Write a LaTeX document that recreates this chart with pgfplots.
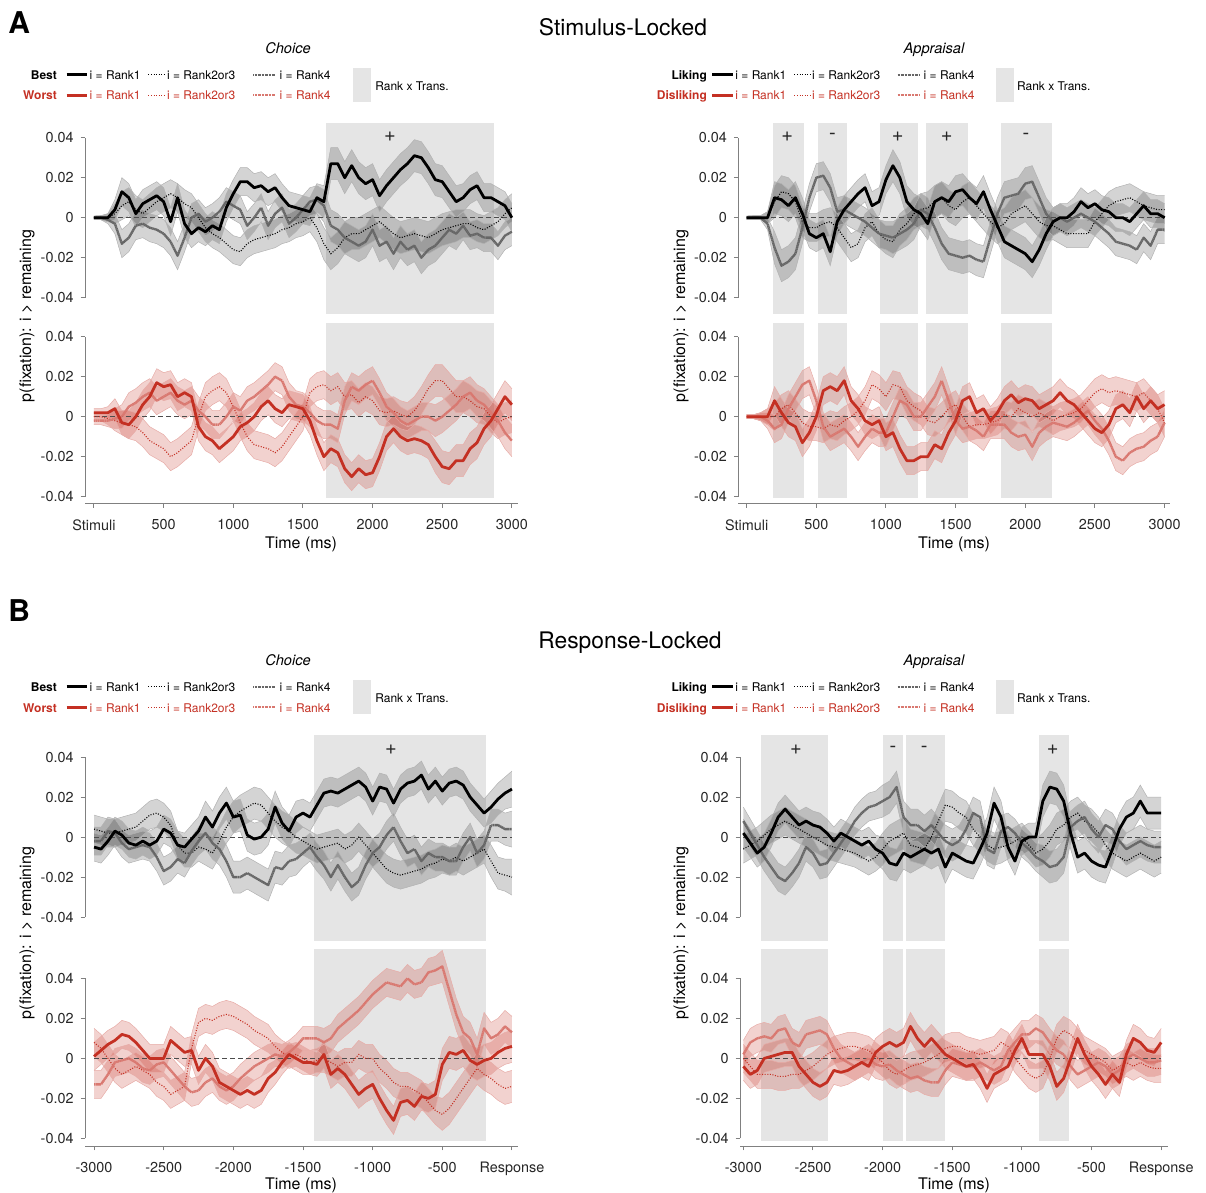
\documentclass[border=0pt]{standalone}
\usepackage{fontspec}
\setmainfont{TeX Gyre Heros}
\usepackage{pgfplots}
\usepackage{pgfplotstable}
\pgfplotsset{compat=1.18}
\usepgfplotslibrary{fillbetween}
\definecolor{redc}{RGB}{196,48,35}

% ---------- A: Stimulus-locked, Choice, Best (black) ----------
\pgfplotstableread{
t m1 m2 m4 e
0 0 0 0 0.0008
50 0 0 0 0.001
100 0.000 0.000 -0.001 0.002
150 0.004 0.002 -0.003 0.005
200 0.013 0.006 -0.013 0.007
250 0.010 0.008 -0.010 0.007
300 0.002 0.004 -0.004 0.007
350 0.007 0.002 -0.003 0.007
400 0.009 0.005 -0.005 0.007
450 0.011 0.008 -0.006 0.007
500 0.008 0.010 -0.008 0.007
550 -0.002 0.012 -0.012 0.007
600 0.010 0.010 -0.019 0.007
650 -0.003 0.007 -0.010 0.007
700 -0.008 0.005 0.000 0.007
750 -0.005 0.000 0.002 0.007
800 -0.007 -0.005 -0.002 0.007
850 -0.004 -0.008 0.000 0.007
900 -0.006 -0.010 0.003 0.007
950 0.005 -0.013 0.008 0.007
1000 0.012 -0.016 0.006 0.007
1050 0.018 -0.017 0.004 0.007
1100 0.018 -0.013 -0.004 0.007
1150 0.015 -0.011 0.000 0.007
1200 0.016 -0.010 0.005 0.007
1250 0.013 -0.009 -0.004 0.007
1300 0.015 -0.008 0.002 0.007
1350 0.010 -0.006 0.005 0.007
1400 0.006 -0.005 -0.003 0.007
1450 0.005 -0.003 0.000 0.007
1500 0.004 -0.002 0.004 0.007
1550 0.003 0.000 0.008 0.007
1600 0.010 -0.005 0.009 0.007
1650 0.008 -0.013 0.006 0.008
1700 0.027 -0.018 -0.004 0.008
1750 0.027 -0.015 -0.006 0.008
1800 0.020 -0.010 -0.010 0.008
1850 0.026 -0.008 -0.012 0.008
1900 0.020 -0.008 -0.014 0.008
1950 0.017 -0.006 -0.012 0.008
2000 0.019 -0.004 -0.006 0.008
2050 0.011 -0.002 -0.014 0.008
2100 0.016 -0.005 -0.012 0.008
2150 0.020 -0.008 -0.018 0.008
2200 0.024 -0.010 -0.012 0.008
2250 0.027 -0.009 -0.016 0.008
2300 0.031 -0.008 -0.014 0.008
2350 0.030 -0.009 -0.020 0.008
2400 0.025 -0.010 -0.016 0.008
2450 0.019 -0.008 -0.014 0.008
2500 0.018 -0.006 -0.010 0.008
2550 0.013 -0.005 -0.006 0.008
2600 0.008 -0.004 -0.008 0.008
2650 0.010 -0.003 -0.004 0.007
2700 0.014 -0.003 -0.009 0.007
2750 0.016 -0.005 -0.008 0.007
2800 0.010 -0.006 -0.010 0.007
2850 0.010 -0.004 -0.010 0.007
2900 0.008 -0.002 -0.014 0.007
2950 0.006 0.002 -0.009 0.007
3000 0.000 0.005 -0.007 0.007
}\tabALT

% ---------- A: Stimulus-locked, Choice, Worst (red) ----------
\pgfplotstableread{
t m1 m2 m4 e
0 0.002 0.000 -0.002 0.002
50 0.002 0.000 -0.002 0.002
100 0.002 -0.001 -0.002 0.003
150 0.004 -0.002 -0.001 0.005
200 -0.003 -0.003 0.000 0.006
250 -0.004 -0.004 0.005 0.007
300 0.000 -0.005 0.007 0.007
350 0.006 -0.008 0.010 0.007
400 0.010 -0.012 0.012 0.007
450 0.017 -0.014 0.008 0.007
500 0.015 -0.016 0.010 0.007
550 0.016 -0.020 0.012 0.007
600 0.010 -0.018 0.008 0.007
650 0.012 -0.015 0.006 0.007
700 0.010 -0.012 0.008 0.007
750 -0.005 0.000 0.003 0.007
800 -0.010 0.010 0.000 0.007
850 -0.012 0.013 -0.004 0.007
900 -0.016 0.015 -0.004 0.007
950 -0.013 0.012 0.000 0.007
1000 -0.010 0.005 0.005 0.007
1050 -0.005 -0.003 0.003 0.007
1100 -0.003 -0.010 0.008 0.007
1150 0.000 -0.014 0.010 0.007
1200 0.005 -0.015 0.013 0.007
1250 0.008 -0.016 0.016 0.007
1300 0.004 -0.018 0.020 0.007
1350 0.002 -0.015 0.018 0.007
1400 0.006 -0.010 0.010 0.007
1450 0.005 -0.005 0.006 0.007
1500 0.004 0.000 0.005 0.007
1550 -0.002 0.012 0.002 0.007
1600 -0.012 0.015 -0.002 0.007
1650 -0.020 0.016 -0.004 0.007
1700 -0.016 0.013 -0.004 0.007
1750 -0.018 0.015 -0.006 0.007
1800 -0.026 0.010 0.008 0.007
1850 -0.030 0.011 0.015 0.007
1900 -0.026 0.007 0.013 0.007
1950 -0.029 0.010 0.016 0.007
2000 -0.028 0.008 0.018 0.007
2050 -0.020 0.003 0.012 0.007
2100 -0.010 0.002 0.005 0.007
2150 -0.006 0.003 0.002 0.007
2200 -0.010 0.001 -0.002 0.007
2250 -0.012 0.000 -0.004 0.007
2300 -0.011 0.003 -0.002 0.007
2350 -0.012 0.008 0.000 0.007
2400 -0.014 0.014 0.000 0.007
2450 -0.020 0.018 -0.002 0.008
2500 -0.025 0.018 0.000 0.008
2550 -0.026 0.014 0.003 0.008
2600 -0.022 0.010 0.006 0.008
2650 -0.022 0.010 0.010 0.008
2700 -0.016 0.008 0.012 0.008
2750 -0.013 0.005 0.008 0.008
2800 -0.006 0.004 0.006 0.008
2850 -0.002 0.000 0.002 0.008
2900 0.004 -0.003 -0.002 0.008
2950 0.010 -0.001 -0.008 0.008
3000 0.006 0.000 -0.012 0.008
}\tabALB

% ---------- A: Stimulus-locked, Appraisal, Liking (black) ----------
\pgfplotstableread{
t m1 m2 m4 e
0 0 0 0 0.0008
50 0 0 0 0.001
100 0 0 0 0.001
150 0.000 0.000 -0.003 0.003
200 0.010 0.008 -0.015 0.008
250 0.009 0.013 -0.024 0.008
300 0.006 0.012 -0.022 0.008
350 0.010 0.008 -0.018 0.008
400 0.002 -0.002 -0.005 0.008
450 -0.008 -0.005 0.010 0.007
500 -0.010 -0.005 0.020 0.007
550 -0.008 -0.003 0.021 0.007
600 -0.017 -0.002 0.015 0.007
650 -0.002 -0.005 0.003 0.007
700 0.004 -0.010 0.004 0.007
750 0.008 -0.015 0.002 0.007
800 0.012 -0.013 0.000 0.007
850 0.015 -0.005 -0.002 0.007
900 0.006 -0.002 -0.005 0.007
950 0.008 -0.008 -0.008 0.007
1000 0.019 -0.011 -0.009 0.007
1050 0.026 -0.012 -0.010 0.008
1100 0.020 -0.006 -0.008 0.008
1150 0.008 -0.003 -0.006 0.008
1200 0.004 0.002 -0.003 0.008
1250 0.002 0.004 0.004 0.008
1300 -0.003 0.005 0.002 0.008
1350 0.008 0.008 -0.005 0.008
1400 0.010 0.010 -0.013 0.008
1450 0.008 0.006 -0.018 0.008
1500 0.013 0.004 -0.019 0.008
1550 0.014 0.008 -0.020 0.008
1600 0.010 0.010 -0.019 0.008
1650 0.007 0.006 -0.021 0.008
1700 0.013 0.002 -0.022 0.008
1750 0.004 -0.002 -0.010 0.008
1800 -0.004 -0.005 0.002 0.008
1850 -0.012 -0.003 0.010 0.008
1900 -0.014 0.002 0.011 0.008
1950 -0.016 0.004 0.012 0.008
2000 -0.018 0.006 0.017 0.008
2050 -0.022 0.002 0.018 0.008
2100 -0.016 -0.002 0.010 0.008
2150 -0.008 -0.004 0.002 0.008
2200 -0.002 -0.004 -0.002 0.007
2250 0.000 -0.006 0.000 0.007
2300 0.000 -0.008 -0.002 0.007
2350 0.003 -0.008 0.000 0.007
2400 0.008 -0.008 0.002 0.007
2450 0.005 -0.008 0.000 0.007
2500 0.007 -0.002 -0.002 0.007
2550 0.004 0.002 -0.005 0.007
2600 0.003 0.006 -0.008 0.007
2650 0.000 0.008 -0.012 0.007
2700 0.000 0.009 -0.013 0.007
2750 -0.002 0.010 -0.014 0.007
2800 0.002 0.008 -0.016 0.007
2850 0.006 0.006 -0.010 0.007
2900 0.002 0.005 -0.014 0.007
2950 0.002 0.004 -0.006 0.007
3000 0.000 0.004 -0.006 0.007
}\tabART

% ---------- A: Stimulus-locked, Appraisal, Disliking (red) ----------
\pgfplotstableread{
t m1 m2 m4 e
0 0 0 0 0.001
50 0 0 0 0.001
100 0 0 0 0.002
150 0.000 0.000 -0.002 0.004
200 0.008 0.000 -0.006 0.007
250 0.002 0.004 -0.004 0.007
300 -0.003 0.006 0.004 0.007
350 -0.005 0.002 0.010 0.007
400 -0.013 -0.003 0.016 0.007
450 -0.008 -0.005 0.018 0.007
500 0.000 -0.005 0.008 0.007
550 0.013 -0.006 -0.005 0.007
600 0.015 -0.004 -0.010 0.007
650 0.013 -0.005 -0.008 0.007
700 0.018 -0.002 -0.006 0.007
750 0.008 0.000 -0.010 0.007
800 0.004 0.003 -0.015 0.007
850 -0.002 0.008 -0.010 0.007
900 -0.004 0.016 -0.006 0.007
950 -0.002 0.014 -0.008 0.007
1000 -0.010 0.010 -0.008 0.007
1050 -0.008 0.016 0.000 0.007
1100 -0.016 0.015 0.008 0.007
1150 -0.022 0.008 0.006 0.007
1200 -0.022 0.005 0.000 0.007
1250 -0.020 0.003 0.000 0.007
1300 -0.020 -0.002 0.005 0.007
1350 -0.014 -0.003 0.010 0.007
1400 -0.016 0.000 0.018 0.007
1450 -0.008 0.004 0.008 0.007
1500 -0.002 0.006 -0.002 0.007
1550 0.008 0.000 -0.006 0.007
1600 0.010 -0.005 -0.005 0.007
1650 0.002 -0.004 -0.007 0.007
1700 0.004 -0.004 -0.010 0.007
1750 -0.002 -0.003 -0.004 0.007
1800 0.002 -0.002 -0.004 0.007
1850 0.008 0.001 -0.004 0.007
1900 0.011 0.000 -0.008 0.007
1950 0.007 0.004 -0.010 0.007
2000 0.009 0.002 -0.009 0.007
2050 0.008 0.000 -0.015 0.007
2100 0.004 0.002 -0.008 0.007
2150 0.006 0.000 -0.005 0.007
2200 0.008 -0.002 -0.003 0.007
2250 0.012 0.000 -0.004 0.007
2300 0.008 0.001 -0.005 0.007
2350 0.006 0.002 -0.003 0.007
2400 0.002 0.004 0.000 0.007
2450 -0.002 0.008 0.003 0.007
2500 -0.006 0.012 -0.002 0.007
2550 -0.008 0.014 -0.006 0.007
2600 -0.004 0.012 -0.012 0.007
2650 0.004 0.013 -0.020 0.007
2700 0.006 0.012 -0.022 0.007
2750 0.002 0.011 -0.018 0.007
2800 0.010 0.010 -0.016 0.007
2850 0.004 0.012 -0.015 0.007
2900 0.008 0.008 -0.012 0.007
2950 0.004 0.004 -0.010 0.007
3000 0.006 -0.003 -0.003 0.007
}\tabARB

% ---------- B: Response-locked, Choice, Best (black) ----------
\pgfplotstableread{
t m1 m2 m4 e
-3000 -0.005 0.004 -0.002 0.007
-2950 -0.006 0.003 -0.002 0.007
-2900 -0.002 0.002 0.003 0.007
-2850 0.003 0.002 0.002 0.007
-2800 0.001 0.003 -0.003 0.007
-2750 -0.003 0.004 -0.006 0.007
-2700 -0.004 0.005 -0.005 0.007
-2650 -0.002 0.008 -0.004 0.007
-2600 -0.004 0.011 -0.005 0.007
-2550 -0.002 0.012 -0.010 0.007
-2500 0.004 0.010 -0.017 0.007
-2450 0.002 0.006 -0.015 0.007
-2400 -0.004 -0.004 -0.011 0.007
-2350 -0.005 -0.008 -0.013 0.007
-2300 -0.001 -0.008 -0.007 0.007
-2250 0.003 -0.005 -0.002 0.007
-2200 0.010 -0.006 0.002 0.008
-2150 0.005 -0.008 -0.003 0.008
-2100 0.012 -0.002 -0.006 0.008
-2050 0.017 0.005 -0.012 0.008
-2000 0.010 0.010 -0.020 0.008
-1950 0.011 0.013 -0.020 0.008
-1900 0.001 0.015 -0.018 0.008
-1850 -0.001 0.017 -0.020 0.008
-1800 0.000 0.016 -0.022 0.008
-1750 0.004 0.012 -0.024 0.008
-1700 0.015 0.008 -0.015 0.008
-1650 0.007 0.005 -0.016 0.008
-1600 0.003 0.003 -0.012 0.008
-1550 0.010 0.000 -0.011 0.008
-1500 0.012 -0.002 -0.008 0.007
-1450 0.010 -0.004 -0.005 0.007
-1400 0.016 -0.006 -0.010 0.007
-1350 0.022 -0.005 -0.014 0.007
-1300 0.023 -0.004 -0.020 0.007
-1250 0.022 -0.003 -0.014 0.007
-1200 0.024 -0.006 -0.020 0.007
-1150 0.026 -0.004 -0.025 0.007
-1100 0.028 0.000 -0.022 0.007
-1050 0.025 -0.004 -0.014 0.007
-1000 0.018 -0.008 -0.008 0.007
-950 0.025 -0.012 -0.005 0.007
-900 0.024 -0.016 0.001 0.007
-850 0.017 -0.018 0.005 0.007
-800 0.024 -0.019 -0.002 0.007
-750 0.027 -0.018 -0.008 0.007
-700 0.028 -0.017 -0.006 0.007
-650 0.031 -0.016 -0.012 0.007
-600 0.024 -0.014 -0.008 0.007
-550 0.028 -0.013 -0.010 0.007
-500 0.023 -0.011 -0.010 0.007
-450 0.027 -0.012 -0.012 0.007
-400 0.028 -0.010 -0.012 0.007
-350 0.026 -0.012 -0.005 0.007
-300 0.020 -0.010 0.000 0.007
-250 0.016 -0.008 -0.008 0.007
-200 0.012 -0.006 -0.004 0.007
-150 0.015 -0.012 0.006 0.008
-100 0.019 -0.018 0.006 0.008
-50 0.022 -0.019 0.004 0.008
0 0.024 -0.020 0.004 0.009
}\tabBLT

% ---------- B: Response-locked, Choice, Worst (red) ----------
\pgfplotstableread{
t m1 m2 m4 e
-3000 0.001 0.008 -0.013 0.007
-2950 0.004 0.005 -0.013 0.007
-2900 0.007 0.000 -0.008 0.007
-2850 0.009 -0.005 -0.002 0.007
-2800 0.012 -0.008 -0.001 0.007
-2750 0.011 -0.006 0.000 0.007
-2700 0.008 -0.004 -0.002 0.007
-2650 0.004 -0.006 -0.005 0.007
-2600 0.000 -0.008 -0.006 0.007
-2550 0.000 -0.012 -0.003 0.007
-2500 0.000 -0.014 -0.002 0.007
-2450 0.009 -0.018 -0.006 0.007
-2400 0.006 -0.016 -0.010 0.007
-2350 0.003 -0.014 -0.014 0.007
-2300 0.004 0.005 -0.017 0.007
-2250 -0.006 0.018 -0.016 0.007
-2200 0.000 0.020 -0.012 0.007
-2150 -0.004 0.019 -0.010 0.007
-2100 -0.012 0.021 -0.014 0.007
-2050 -0.014 0.022 -0.016 0.007
-2000 -0.016 0.021 -0.014 0.007
-1950 -0.018 0.019 -0.010 0.007
-1900 -0.016 0.017 -0.007 0.007
-1850 -0.018 0.014 -0.004 0.007
-1800 -0.016 0.012 -0.002 0.007
-1750 -0.010 0.010 0.000 0.007
-1700 -0.007 0.006 0.002 0.006
-1650 -0.002 0.003 0.001 0.006
-1600 0.002 0.001 0.003 0.006
-1550 0.000 0.002 0.006 0.006
-1500 -0.002 0.000 0.010 0.006
-1450 -0.002 -0.002 0.010 0.006
-1400 -0.003 -0.001 0.010 0.006
-1350 0.002 0.000 0.008 0.007
-1300 -0.008 -0.002 0.010 0.007
-1250 -0.005 -0.004 0.015 0.007
-1200 -0.008 -0.002 0.018 0.007
-1150 -0.013 -0.002 0.021 0.007
-1100 -0.018 0.002 0.024 0.007
-1050 -0.015 0.000 0.028 0.007
-1000 -0.013 0.000 0.032 0.007
-950 -0.020 -0.005 0.035 0.007
-900 -0.026 -0.008 0.038 0.007
-850 -0.031 -0.012 0.037 0.007
-800 -0.022 -0.014 0.036 0.007
-750 -0.021 -0.014 0.040 0.007
-700 -0.024 -0.016 0.037 0.007
-650 -0.019 -0.018 0.038 0.007
-600 -0.020 -0.022 0.043 0.007
-550 -0.018 -0.026 0.044 0.007
-500 -0.003 -0.028 0.046 0.008
-450 0.003 -0.025 0.034 0.008
-400 0.002 -0.020 0.022 0.008
-350 0.004 -0.015 0.013 0.008
-300 -0.001 -0.010 0.010 0.008
-250 -0.003 -0.005 0.002 0.008
-200 -0.001 -0.008 0.015 0.008
-150 0.000 -0.010 0.010 0.008
-100 0.003 -0.013 0.012 0.008
-50 0.005 -0.015 0.016 0.008
0 0.006 -0.014 0.013 0.008
}\tabBLB

% ---------- B: Response-locked, Appraisal, Liking (black) ----------
\pgfplotstableread{
t m1 m2 m4 e
-3000 0.002 -0.006 0.008 0.007
-2950 -0.003 -0.004 0.002 0.007
-2900 -0.008 -0.002 -0.004 0.007
-2850 -0.005 0.001 -0.010 0.007
-2800 0.002 0.004 -0.015 0.007
-2750 0.010 0.006 -0.020 0.007
-2700 0.014 0.008 -0.022 0.007
-2650 0.010 0.006 -0.018 0.007
-2600 0.006 0.004 -0.013 0.007
-2550 0.008 0.002 -0.005 0.007
-2500 0.006 0.000 -0.008 0.007
-2450 0.005 -0.002 -0.014 0.007
-2400 0.002 -0.004 -0.013 0.007
-2350 -0.002 -0.005 -0.008 0.007
-2300 0.002 -0.006 -0.003 0.007
-2250 0.000 -0.007 0.002 0.007
-2200 -0.002 -0.008 0.008 0.007
-2150 -0.004 -0.010 0.012 0.007
-2100 -0.002 -0.012 0.015 0.007
-2050 -0.006 -0.010 0.016 0.007
-2000 -0.008 -0.006 0.018 0.008
-1950 -0.013 -0.002 0.020 0.008
-1900 -0.014 0.000 0.025 0.008
-1850 -0.008 0.002 0.010 0.008
-1800 -0.010 -0.004 0.006 0.008
-1750 -0.008 -0.005 0.006 0.008
-1700 -0.006 -0.006 0.003 0.008
-1650 -0.008 0.000 0.006 0.008
-1600 -0.006 0.008 0.002 0.008
-1550 -0.015 0.016 -0.002 0.008
-1500 -0.008 0.015 -0.004 0.008
-1450 -0.010 0.012 -0.002 0.008
-1400 -0.012 0.010 0.004 0.008
-1350 -0.013 0.004 0.012 0.008
-1300 -0.006 0.000 0.010 0.008
-1250 0.002 -0.004 -0.006 0.008
-1200 0.017 -0.006 -0.008 0.008
-1150 0.010 -0.005 0.003 0.008
-1100 -0.005 -0.004 0.005 0.007
-1050 -0.012 -0.002 0.002 0.007
-1000 -0.002 0.000 -0.003 0.007
-950 0.000 -0.004 -0.006 0.007
-900 0.000 -0.008 -0.010 0.007
-850 0.018 -0.006 -0.012 0.008
-800 0.025 -0.002 -0.015 0.008
-750 0.024 0.004 -0.014 0.008
-700 0.018 0.006 -0.010 0.008
-650 0.002 0.010 0.005 0.008
-600 -0.010 0.012 0.008 0.008
-550 -0.008 0.008 0.010 0.008
-500 -0.012 0.006 0.004 0.008
-450 -0.014 0.002 0.000 0.008
-400 -0.015 -0.004 0.006 0.008
-350 -0.006 -0.008 0.004 0.008
-300 0.004 -0.010 -0.002 0.008
-250 0.010 -0.012 -0.006 0.008
-200 0.012 -0.010 -0.004 0.008
-150 0.018 -0.008 -0.002 0.008
-100 0.012 -0.010 -0.004 0.008
-50 0.012 -0.012 -0.005 0.008
0 0.012 -0.010 -0.005 0.008
}\tabBRT

% ---------- B: Response-locked, Appraisal, Disliking (red) ----------
\pgfplotstableread{
t m1 m2 m4 e
-3000 -0.004 0.000 0.002 0.007
-2950 -0.008 -0.004 0.008 0.007
-2900 -0.006 -0.008 0.010 0.007
-2850 0.000 -0.008 0.011 0.007
-2800 0.001 -0.008 0.010 0.007
-2750 0.002 -0.009 0.014 0.007
-2700 0.003 -0.009 0.015 0.007
-2650 0.003 -0.008 0.008 0.007
-2600 -0.004 -0.008 0.006 0.007
-2550 -0.008 -0.006 0.012 0.007
-2500 -0.012 -0.004 0.013 0.007
-2450 -0.014 -0.001 0.014 0.007
-2400 -0.012 0.002 0.012 0.007
-2350 -0.006 0.004 0.005 0.007
-2300 -0.007 0.005 0.000 0.007
-2250 -0.006 0.006 -0.002 0.007
-2200 -0.004 0.006 -0.004 0.007
-2150 -0.002 0.005 -0.002 0.007
-2100 -0.004 0.004 0.000 0.007
-2050 0.003 0.001 -0.003 0.007
-2000 0.006 -0.002 -0.004 0.007
-1950 0.008 -0.006 -0.003 0.007
-1900 0.006 -0.008 -0.006 0.007
-1850 0.008 -0.006 -0.008 0.007
-1800 0.016 -0.004 -0.010 0.007
-1750 0.010 -0.003 -0.009 0.007
-1700 0.006 -0.002 -0.011 0.007
-1650 0.010 0.000 -0.012 0.007
-1600 0.006 0.002 -0.012 0.007
-1550 0.002 0.005 -0.006 0.007
-1500 0.000 0.006 -0.002 0.007
-1450 -0.002 0.006 -0.003 0.007
-1400 -0.004 0.004 -0.004 0.007
-1350 -0.003 0.003 -0.004 0.007
-1300 -0.008 0.002 -0.002 0.007
-1250 -0.015 0.003 -0.004 0.007
-1200 -0.008 0.004 -0.006 0.007
-1150 -0.006 0.008 -0.004 0.007
-1100 -0.004 0.006 0.004 0.007
-1050 0.004 0.000 0.008 0.007
-1000 0.010 -0.004 0.012 0.007
-950 0.002 -0.008 0.012 0.007
-900 0.002 -0.010 0.015 0.007
-850 0.002 -0.008 0.013 0.007
-800 -0.004 0.000 0.008 0.007
-750 -0.014 0.010 0.004 0.007
-700 -0.010 0.014 0.002 0.007
-650 0.000 0.012 -0.004 0.007
-600 0.010 0.008 -0.008 0.007
-550 0.002 0.004 -0.006 0.007
-500 -0.004 0.002 -0.004 0.007
-450 -0.008 0.000 -0.002 0.007
-400 -0.013 -0.002 -0.004 0.007
-350 -0.008 -0.006 -0.008 0.007
-300 -0.012 -0.004 -0.006 0.007
-250 0.002 -0.002 0.000 0.007
-200 0.010 -0.004 0.002 0.007
-150 0.008 -0.002 0.000 0.007
-100 0.004 -0.004 -0.002 0.007
-50 0.003 -0.005 -0.002 0.007
0 0.008 -0.005 -0.001 0.007
}\tabBRB

\tikzset{
  edgeK/.style={draw=black!30, line width=0.25pt},
  edgeR/.style={draw=redc!40, line width=0.25pt},
  bandK/.style={fill=black, fill opacity=0.17, draw=none},
  bandR/.style={fill=redc, fill opacity=0.22, draw=none},
  r1K/.style={black, line width=1.4pt, line join=round},
  r23K/.style={black, line width=0.55pt, dash pattern=on 0.5pt off 0.8pt},
  r4K/.style={black!60, line width=1.2pt, line join=round, dash pattern=on 0.7pt off 0.2pt},
  r1R/.style={redc, line width=1.4pt, line join=round},
  r23R/.style={redc, line width=0.55pt, dash pattern=on 0.5pt off 0.8pt},
  r4R/.style={redc!65, line width=1.2pt, line join=round, dash pattern=on 0.7pt off 0.2pt},
  zero/.style={black!70, line width=0.4pt, dash pattern=on 2.5pt off 1.5pt},
  axln/.style={black!50, line width=0.5pt},
  lg/.style={inner sep=0pt, font=\fontsize{6}{7}\selectfont},
  sgn/.style={inner sep=0pt, font=\fontsize{10}{10}\selectfont, text=black!85},
}

\pgfplotsset{
  sigf/.style={fill=black!10, draw=none, on layer=axis background},
  panel/.style={
    set layers,
    scale only axis, anchor=south west,
    axis x line*=bottom, axis y line*=left,
    axis line style={draw=none},
    tick align=outside, major tick length=2.2pt,
    tick style={black!50, line width=0.5pt},
    scaled ticks=false,
    ytick={-0.04,-0.02,0,0.02,0.04},
    yticklabels={-0.04,-0.02,0,0.02,0.04},
    ticklabel style={font=\fontsize{7.2}{8}\selectfont, text=black!85},
    /pgf/number format/assume math mode=true,
    clip=false,
  },
  toppanel/.style={panel, xtick=\empty},
  botA/.style={panel, xtick={0,500,1000,1500,2000,2500,3000},
    xticklabels={Stimuli,500,1000,1500,2000,2500,3000},
    xticklabel style={yshift=-2.5pt}},
  botB/.style={panel, xtick={-3000,-2500,-2000,-1500,-1000,-500,0},
    xticklabels={-3000,-2500,-2000,-1500,-1000,-500,Response},
    xticklabel style={yshift=-2.5pt}},
}

\newcommand{\OneBand}[3]{%
  \addplot[edge#3, name path=u#2] table[x=t, y expr=\thisrow{#2}+\thisrow{e}] {#1};
  \addplot[edge#3, name path=l#2] table[x=t, y expr=\thisrow{#2}-\thisrow{e}] {#1};
  \addplot[band#3] fill between[of=u#2 and l#2];
}
\newcommand{\AllBands}[2]{\OneBand{#1}{m2}{#2}\OneBand{#1}{m4}{#2}\OneBand{#1}{m1}{#2}}
\newcommand{\AllLines}[2]{%
  \addplot[r23#2] table[x=t, y=m2] {#1};
  \addplot[r4#2] table[x=t, y=m4] {#1};
  \addplot[r1#2] table[x=t, y=m1] {#1};
}
\newcommand{\Sig}[4]{\addplot[sigf] coordinates {(#1,#3) (#2,#3) (#2,#4) (#1,#4)};}

\begin{document}
\begin{tikzpicture}
\def\uu{0.5pt}

% ================= headers =================
\node[anchor=base west, inner sep=0pt, font=\fontsize{15}{15}\selectfont\bfseries] at (8*\uu,-33.3*\uu) {A};
\node[anchor=base, inner sep=0pt, font=\fontsize{11.4}{12}\selectfont] at (623*\uu,-36*\uu) {Stimulus-Locked};
\node[anchor=base west, inner sep=0pt, font=\fontsize{15}{15}\selectfont\bfseries] at (8*\uu,-621.7*\uu) {B};
\node[anchor=base, inner sep=0pt, font=\fontsize{11.4}{12}\selectfont] at (630*\uu,-648*\uu) {Response-Locked};

\foreach \dy in {0,612}{
  \node[anchor=base, inner sep=0pt, font=\fontsize{7.3}{8}\selectfont\itshape] at (288*\uu,{-(53.3+\dy)*\uu}) {Choice};
  \node[anchor=base, inner sep=0pt, font=\fontsize{7.3}{8}\selectfont\itshape] at (934*\uu,{-(53.3+\dy)*\uu}) {Appraisal};
  % left legend
  \node[lg, anchor=base east] at (57.3*\uu,{-(79.3+\dy)*\uu}) {\bfseries Best};
  \node[lg, anchor=base east, text=redc] at (57.3*\uu,{-(100+\dy)*\uu}) {\bfseries Worst};
  \draw[r1K] (66.7*\uu,{-(74.7+\dy)*\uu}) -- (87.3*\uu,{-(74.7+\dy)*\uu});
  \draw[r1R] (66.7*\uu,{-(95.3+\dy)*\uu}) -- (87.3*\uu,{-(95.3+\dy)*\uu});
  \node[lg, anchor=base west] at (89.3*\uu,{-(79.3+\dy)*\uu}) {i = Rank1};
  \node[lg, anchor=base west, text=redc] at (89.3*\uu,{-(100+\dy)*\uu}) {i = Rank1};
  \draw[r23K] (148.3*\uu,{-(74.7+\dy)*\uu}) -- (165.7*\uu,{-(74.7+\dy)*\uu});
  \draw[r23R] (148.3*\uu,{-(95.3+\dy)*\uu}) -- (165.7*\uu,{-(95.3+\dy)*\uu});
  \node[lg, anchor=base west] at (166.7*\uu,{-(79.3+\dy)*\uu}) {i = Rank2or3};
  \node[lg, anchor=base west, text=redc] at (166.7*\uu,{-(100+\dy)*\uu}) {i = Rank2or3};
  \draw[r4K, line width=1pt, dash pattern=on 0.4pt off 0.3pt] (253.3*\uu,{-(74.7+\dy)*\uu}) -- (275*\uu,{-(74.7+\dy)*\uu});
  \draw[r4R, line width=1pt, dash pattern=on 0.4pt off 0.3pt] (253.3*\uu,{-(95.3+\dy)*\uu}) -- (275*\uu,{-(95.3+\dy)*\uu});
  \node[lg, anchor=base west] at (279.3*\uu,{-(79.3+\dy)*\uu}) {i = Rank4};
  \node[lg, anchor=base west, text=redc] at (279.3*\uu,{-(100+\dy)*\uu}) {i = Rank4};
  \fill[black!10] (352.7*\uu,{-(67.7+\dy)*\uu}) rectangle (371*\uu,{-(102.3+\dy)*\uu});
  \node[lg, anchor=base west] at (375*\uu,{-(90.5+\dy)*\uu}) {Rank x Trans.};
  % right legend
  \node[lg, anchor=base east] at (707.3*\uu,{-(79.3+\dy)*\uu}) {\bfseries Liking};
  \node[lg, anchor=base east, text=redc] at (707.3*\uu,{-(100+\dy)*\uu}) {\bfseries Disliking};
  \draw[r1K] (712.3*\uu,{-(74.7+\dy)*\uu}) -- (733.3*\uu,{-(74.7+\dy)*\uu});
  \draw[r1R] (712.3*\uu,{-(95.3+\dy)*\uu}) -- (733.3*\uu,{-(95.3+\dy)*\uu});
  \node[lg, anchor=base west] at (735*\uu,{-(79.3+\dy)*\uu}) {i = Rank1};
  \node[lg, anchor=base west, text=redc] at (735*\uu,{-(100+\dy)*\uu}) {i = Rank1};
  \draw[r23K] (794.3*\uu,{-(74.7+\dy)*\uu}) -- (810*\uu,{-(74.7+\dy)*\uu});
  \draw[r23R] (794.3*\uu,{-(95.3+\dy)*\uu}) -- (810*\uu,{-(95.3+\dy)*\uu});
  \node[lg, anchor=base west] at (811.7*\uu,{-(79.3+\dy)*\uu}) {i = Rank2or3};
  \node[lg, anchor=base west, text=redc] at (811.7*\uu,{-(100+\dy)*\uu}) {i = Rank2or3};
  \draw[r4K, line width=1pt, dash pattern=on 0.4pt off 0.3pt] (897.7*\uu,{-(74.7+\dy)*\uu}) -- (919.3*\uu,{-(74.7+\dy)*\uu});
  \draw[r4R, line width=1pt, dash pattern=on 0.4pt off 0.3pt] (897.7*\uu,{-(95.3+\dy)*\uu}) -- (919.3*\uu,{-(95.3+\dy)*\uu});
  \node[lg, anchor=base west] at (923.3*\uu,{-(79.3+\dy)*\uu}) {i = Rank4};
  \node[lg, anchor=base west, text=redc] at (923.3*\uu,{-(100+\dy)*\uu}) {i = Rank4};
  \fill[black!10] (996*\uu,{-(67.7+\dy)*\uu}) rectangle (1014.3*\uu,{-(102.3+\dy)*\uu});
  \node[lg, anchor=base west] at (1016.7*\uu,{-(90.5+\dy)*\uu}) {Rank x Trans.};
}

% y labels and x labels
\foreach \xx/\yy in {27/316, 681/316, 27/933, 681/933}{
  \node[rotate=90, inner sep=0pt, font=\fontsize{8}{9}\selectfont] at (\xx*\uu,-\yy*\uu) {p(fixation): i > remaining};
}
\foreach \xx/\yy in {301/548.5, 954/548.5, 301/1189, 954/1189}{
  \node[anchor=base, inner sep=0pt, font=\fontsize{8}{9}\selectfont] at (\xx*\uu,-\yy*\uu) {Time (ms)};
}

% ================= A left top =================
\begin{axis}[toppanel, at={(85*\uu,-314.3*\uu)}, width=216.65pt, height=95.5pt, xmin=-64.6, xmax=3046, ymin=-0.0483, ymax=0.0472]
  \Sig{1663}{2871}{-0.0483}{0.0472}
  \AllBands{\tabALT}{K}
  \addplot[zero] coordinates {(0,0) (3000,0)};
  \AllLines{\tabALT}{K}
  \draw[axln] (axis cs:-64.6,-0.04) -- (axis cs:-64.6,0.04);
  \node[sgn] at (axis cs:2125,0.0405) {+};
\end{axis}
% ================= A left bottom =================
\begin{axis}[botA, at={(85*\uu,-503.3*\uu)}, width=216.65pt, height=90.3pt, xmin=-64.6, xmax=3046, ymin=-0.0433, ymax=0.047]
  \Sig{1663}{2871}{-0.0408}{0.047}
  \AllBands{\tabALB}{R}
  \addplot[zero] coordinates {(0,0) (3000,0)};
  \AllLines{\tabALB}{R}
  \draw[axln] (axis cs:-64.6,-0.04) -- (axis cs:-64.6,0.04);
  \draw[axln] (axis cs:-64.6,-0.0433) -- (axis cs:3046,-0.0433);
\end{axis}

% ================= A right top =================
\begin{axis}[toppanel, at={(738.3*\uu,-314.3*\uu)}, width=215.85pt, height=95.5pt, xmin=-60, xmax=3039, ymin=-0.0483, ymax=0.0472]
  \Sig{189}{408}{-0.0483}{0.0472}
  \Sig{511}{717}{-0.0483}{0.0472}
  \Sig{959}{1228}{-0.0483}{0.0472}
  \Sig{1290}{1590}{-0.0483}{0.0472}
  \Sig{1823}{2192}{-0.0483}{0.0472}
  \AllBands{\tabART}{K}
  \addplot[zero] coordinates {(0,0) (3000,0)};
  \AllLines{\tabART}{K}
  \draw[axln] (axis cs:-60,-0.04) -- (axis cs:-60,0.04);
  \node[sgn] at (axis cs:291,0.0405) {+};
  \node[sgn] at (axis cs:615,0.0405) {-};
  \node[sgn] at (axis cs:1084,0.0405) {+};
  \node[sgn] at (axis cs:1436,0.0405) {+};
  \node[sgn] at (axis cs:2005,0.0405) {-};
\end{axis}
% ================= A right bottom =================
\begin{axis}[botA, at={(738.3*\uu,-503.3*\uu)}, width=215.85pt, height=90.3pt, xmin=-60, xmax=3039, ymin=-0.0433, ymax=0.047]
  \Sig{189}{408}{-0.0408}{0.047}
  \Sig{511}{717}{-0.0408}{0.047}
  \Sig{959}{1228}{-0.0408}{0.047}
  \Sig{1290}{1590}{-0.0408}{0.047}
  \Sig{1823}{2192}{-0.0408}{0.047}
  \AllBands{\tabARB}{R}
  \addplot[zero] coordinates {(0,0) (3000,0)};
  \AllLines{\tabARB}{R}
  \draw[axln] (axis cs:-60,-0.04) -- (axis cs:-60,0.04);
  \draw[axln] (axis cs:-60,-0.0433) -- (axis cs:3039,-0.0433);
\end{axis}

% ================= B left top =================
\begin{axis}[toppanel, at={(85*\uu,-940.7*\uu)}, width=216.68pt, height=103pt, xmin=-3065, xmax=46, ymin=-0.0518, ymax=0.0512]
  \Sig{-1421}{-187}{-0.0518}{0.0512}
  \AllBands{\tabBLT}{K}
  \addplot[zero] coordinates {(-3000,0) (0,0)};
  \AllLines{\tabBLT}{K}
  \draw[axln] (axis cs:-3065,-0.04) -- (axis cs:-3065,0.04);
  \node[sgn] at (axis cs:-868,0.0437) {+};
\end{axis}
% ================= B left bottom =================
\begin{axis}[botB, at={(85*\uu,-1146*\uu)}, width=216.68pt, height=98.6pt, xmin=-3065, xmax=46, ymin=-0.0438, ymax=0.0548]
  \Sig{-1421}{-187}{-0.0412}{0.0548}
  \AllBands{\tabBLB}{R}
  \addplot[zero] coordinates {(-3000,0) (0,0)};
  \AllLines{\tabBLB}{R}
  \draw[axln] (axis cs:-3065,-0.04) -- (axis cs:-3065,0.04);
  \draw[axln] (axis cs:-3065,-0.0438) -- (axis cs:46,-0.0438);
\end{axis}

% ================= B right top =================
\begin{axis}[toppanel, at={(740*\uu,-940.7*\uu)}, width=213.8pt, height=103pt, xmin=-3024, xmax=46, ymin=-0.0518, ymax=0.0512]
  \Sig{-2871}{-2390}{-0.0518}{0.0512}
  \Sig{-2000}{-1854}{-0.0518}{0.0512}
  \Sig{-1830}{-1553}{-0.0518}{0.0512}
  \Sig{-876}{-660}{-0.0518}{0.0512}
  \AllBands{\tabBRT}{K}
  \addplot[zero] coordinates {(-3000,0) (0,0)};
  \AllLines{\tabBRT}{K}
  \draw[axln] (axis cs:-3024,-0.04) -- (axis cs:-3024,0.04);
  \node[sgn] at (axis cs:-2622,0.0437) {+};
  \node[sgn] at (axis cs:-1925,0.0437) {-};
  \node[sgn] at (axis cs:-1701,0.0437) {-};
  \node[sgn] at (axis cs:-779,0.0437) {+};
\end{axis}
% ================= B right bottom =================
\begin{axis}[botB, at={(740*\uu,-1146*\uu)}, width=213.8pt, height=98.6pt, xmin=-3024, xmax=46, ymin=-0.0438, ymax=0.0548]
  \Sig{-2871}{-2390}{-0.0412}{0.0548}
  \Sig{-2000}{-1854}{-0.0412}{0.0548}
  \Sig{-1830}{-1553}{-0.0412}{0.0548}
  \Sig{-876}{-660}{-0.0412}{0.0548}
  \AllBands{\tabBRB}{R}
  \addplot[zero] coordinates {(-3000,0) (0,0)};
  \AllLines{\tabBRB}{R}
  \draw[axln] (axis cs:-3024,-0.04) -- (axis cs:-3024,0.04);
  \draw[axln] (axis cs:-3024,-0.0438) -- (axis cs:46,-0.0438);
\end{axis}

\pgfresetboundingbox
\path[use as bounding box] (0,0) rectangle (1206*\uu,-1193*\uu);
\end{tikzpicture}
\end{document}
